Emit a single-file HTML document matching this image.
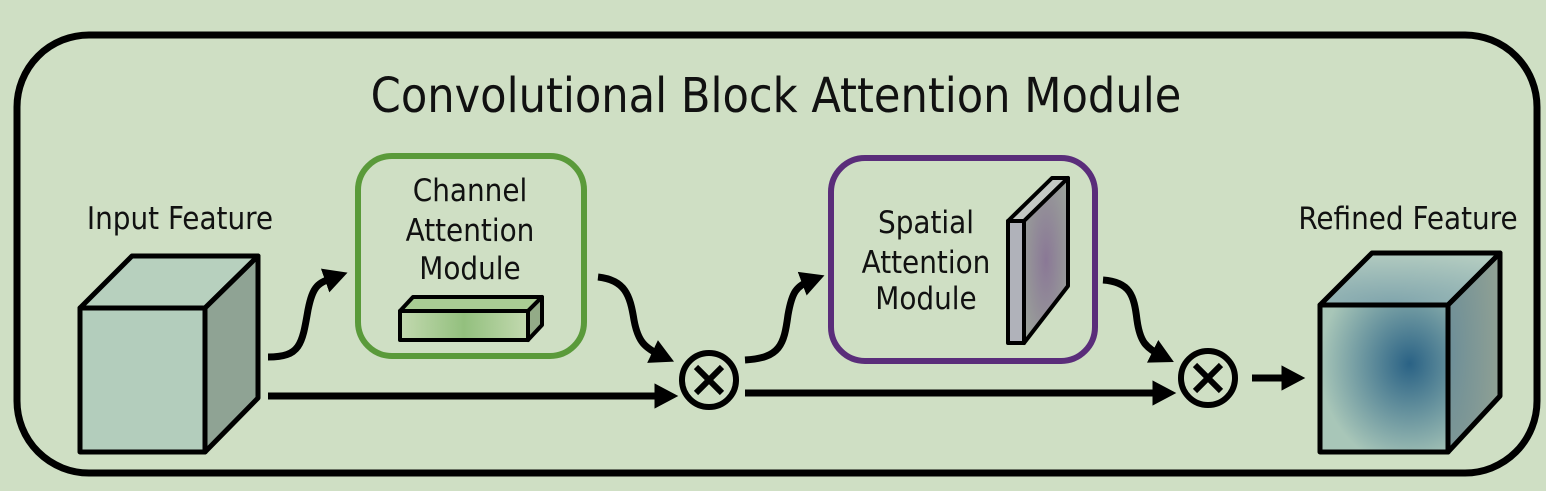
<!DOCTYPE html>
<html><head><style>
html,body{margin:0;padding:0;background:#cfdfc4;}
svg{display:block;}
text{font-family:"DejaVu Sans Condensed","DejaVu Sans","Liberation Sans",sans-serif;fill:#111;}
</style></head><body>
<svg width="1546" height="491" viewBox="0 0 1546 491" xmlns="http://www.w3.org/2000/svg">
<defs>
<marker id="ah" markerWidth="4" markerHeight="4" refX="1.5" refY="2" orient="auto" markerUnits="strokeWidth">
<path d="M0,0.2 L3.4,2 L0,3.8 z" fill="#000"/></marker>
<linearGradient id="barg" x1="0" x2="1" y1="0" y2="0">
<stop offset="0" stop-color="#c3d9b0"/><stop offset="0.5" stop-color="#93c07e"/><stop offset="1" stop-color="#c3d9b0"/></linearGradient>
<radialGradient id="slabg" cx="0.5" cy="0.5" r="0.6">
<stop offset="0" stop-color="#8a7896"/><stop offset="1" stop-color="#9aa09a"/></radialGradient>
<radialGradient id="cubeg" cx="0.7" cy="0.4" r="0.7">
<stop offset="0" stop-color="#2a6285"/><stop offset="1" stop-color="#a8c6b8"/></radialGradient>
<radialGradient id="cubes" cx="0" cy="0.5" r="1">
<stop offset="0" stop-color="#6c8e98"/><stop offset="1" stop-color="#8fa094"/></radialGradient>
<radialGradient id="cubet" cx="0.4" cy="1" r="1">
<stop offset="0" stop-color="#7fa4ac"/><stop offset="1" stop-color="#b2cbc0"/></radialGradient>
</defs>
<rect x="17" y="35" width="1520" height="438" rx="72" fill="none" stroke="#000" stroke-width="7"/>
<text x="776" y="112" font-size="48" text-anchor="middle">Convolutional Block Attention Module</text>

<text x="180" y="229" font-size="31" text-anchor="middle">Input Feature</text>
<g stroke="#000" stroke-width="5" stroke-linejoin="round">
<polygon points="80,308 132,256 258,256 205,308" fill="#b7d0be"/>
<polygon points="205,308 258,256 258,398 205,452" fill="#8fa394"/>
<rect x="80" y="308" width="125" height="144" fill="#b3cdbc"/>
</g>

<rect x="358" y="156" width="226" height="200" rx="34" fill="none" stroke="#5a9a3a" stroke-width="6"/>
<text x="470" y="201" font-size="31" text-anchor="middle">Channel</text>
<text x="470" y="241" font-size="31" text-anchor="middle">Attention</text>
<text x="470" y="279" font-size="31" text-anchor="middle">Module</text>
<g stroke="#000" stroke-width="4" stroke-linejoin="round">
<polygon points="400,311 413,297 542,297 528,311" fill="#a9cc94"/>
<polygon points="528,311 542,297 542,325 528,340" fill="#93ab87"/>
<rect x="400" y="311" width="128" height="29" fill="url(#barg)"/>
</g>

<rect x="831" y="158" width="264" height="203" rx="34" fill="none" stroke="#5a2d7a" stroke-width="6"/>
<text x="926" y="233" font-size="31" text-anchor="middle">Spatial</text>
<text x="926" y="273" font-size="31" text-anchor="middle">Attention</text>
<text x="926" y="309" font-size="31" text-anchor="middle">Module</text>
<g stroke="#000" stroke-width="4" stroke-linejoin="round">
<polygon points="1008,221 1052,178 1068,178 1024,221" fill="#c4c8c4"/>
<polygon points="1024,221 1068,178 1068,286 1024,343" fill="url(#slabg)"/>
<rect x="1008" y="221" width="16" height="122" fill="#b0b2ba"/>
</g>

<text x="1408" y="229" font-size="31" text-anchor="middle">Refined Feature</text>
<g stroke="#000" stroke-width="5" stroke-linejoin="round">
<polygon points="1320,305 1372,253 1500,253 1448,305" fill="url(#cubet)"/>
<polygon points="1448,305 1500,253 1500,396 1448,452" fill="url(#cubes)"/>
<rect x="1320" y="305" width="128" height="147" fill="url(#cubeg)"/>
</g>

<g fill="none" stroke="#000" stroke-width="7">
<path d="M268,357 C300,357 302,345 308,310 C313,285 318,283 335,277" marker-end="url(#ah)"/>
<path d="M268,396 L665,396" marker-end="url(#ah)"/>
<path d="M598,277 C625,280 630,295 634,320 C638,342 645,348 662,356" marker-end="url(#ah)"/>
<path d="M745,360 C780,358 784,345 788,315 C792,292 796,286 812,280" marker-end="url(#ah)"/>
<path d="M745,393 L1163,393" marker-end="url(#ah)"/>
<path d="M1103,280 C1130,282 1134,295 1137,320 C1140,342 1146,348 1162,356" marker-end="url(#ah)"/>
<path d="M1252,378 L1292,378" marker-end="url(#ah)"/>
</g>
<g stroke="#000" stroke-width="6" fill="none">
<circle cx="709" cy="380" r="27"/>
<path d="M696,367 L722,393 M722,367 L696,393"/>
<circle cx="1208" cy="378" r="27"/>
<path d="M1195,365 L1221,391 M1221,365 L1195,391"/>
</g>
</svg>
</body></html>
